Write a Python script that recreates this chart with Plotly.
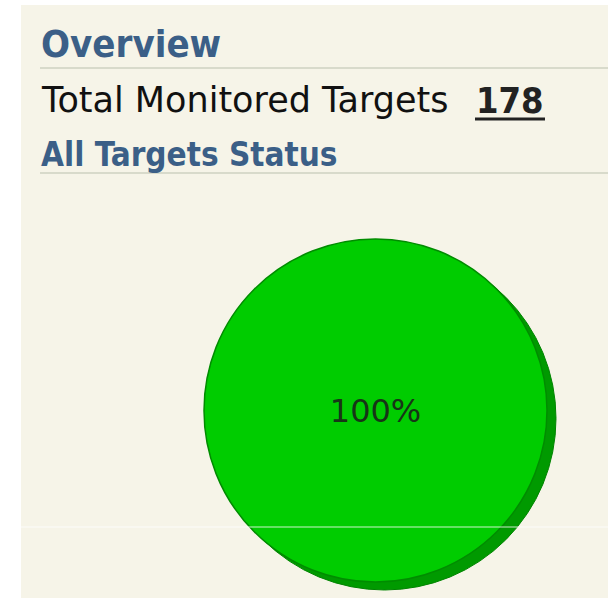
import plotly.graph_objects as go

# ---- data ----
status_labels = ["Up"]
status_values = [178]
status_colors = ["#00cc00"]
total_targets = 178
heading_overview = "Overview"
total_label = "Total Monitored Targets"
heading_status = "All Targets Status"

W, H = 608, 599


def px(x):
    return x / W


def py(y):
    return 1 - y / H


fig = go.Figure()

# shadow (3D edge) of the pie
fig.add_trace(go.Pie(
    labels=status_labels, values=status_values,
    marker=dict(colors=["#009a00"], line=dict(color="#008400", width=1)),
    textinfo="none", sort=False, showlegend=False, hoverinfo="skip",
    domain=dict(x=[px(213), px(556)], y=[py(590), py(247)]),
))

# main pie
fig.add_trace(go.Pie(
    labels=status_labels, values=status_values,
    marker=dict(colors=status_colors, line=dict(color="#008c00", width=1.5)),
    textinfo="percent", textposition="inside",
    insidetextorientation="horizontal",
    textfont=dict(family="DejaVu Sans", size=32, color="#173517"),
    sort=False, showlegend=False, hoverinfo="skip",
    domain=dict(x=[px(204), px(547)], y=[py(582), py(239)]),
))

shapes = [
    # beige panel
    dict(type="rect", xref="paper", yref="paper", x0=px(21), x1=px(608), y0=py(598), y1=py(5),
         fillcolor="#f6f4e8", line=dict(width=0), layer="below"),
    # heading rules
    dict(type="line", xref="paper", yref="paper", x0=px(40), x1=px(608), y0=py(68), y1=py(68),
         line=dict(color="#d8dacb", width=2)),
    dict(type="line", xref="paper", yref="paper", x0=px(40), x1=px(608), y0=py(173), y1=py(173),
         line=dict(color="#d8dacb", width=2)),
    # underline of the count
    dict(type="line", xref="paper", yref="paper", x0=px(475), x1=px(545), y0=py(119), y1=py(119),
         line=dict(color="#222222", width=3)),
    # thin light artefact line across the panel
    dict(type="line", xref="paper", yref="paper", x0=px(21), x1=px(608), y0=py(527), y1=py(527),
         line=dict(color="rgba(255,255,255,0.8)", width=1), layer="above"),
]

annotations = [
    dict(text=f"<b>{heading_overview}</b>", x=px(39), y=py(44), xref="paper", yref="paper",
         xanchor="left", yanchor="middle", showarrow=False,
         font=dict(family="DejaVu Sans Condensed", size=38, color="#3b5f87")),
    dict(text=total_label, x=px(39), y=py(100), xref="paper", yref="paper",
         xanchor="left", yanchor="middle", showarrow=False,
         font=dict(family="DejaVu Sans", size=35, color="#111111")),
    dict(text=f"<b>{total_targets}</b>", x=px(474), y=py(100), xref="paper", yref="paper",
         xanchor="left", yanchor="middle", showarrow=False,
         font=dict(family="DejaVu Sans Condensed", size=36, color="#222222")),
    dict(text=f"<b>{heading_status}</b>", x=px(39), y=py(154), xref="paper", yref="paper",
         xanchor="left", yanchor="middle", showarrow=False,
         font=dict(family="DejaVu Sans Condensed", size=33, color="#3b5f87")),
]

fig.update_layout(
    width=W, height=H,
    margin=dict(l=0, r=0, t=0, b=0),
    paper_bgcolor="#ffffff", plot_bgcolor="#ffffff",
    shapes=shapes, annotations=annotations,
)

fig.write_html("out.html")
